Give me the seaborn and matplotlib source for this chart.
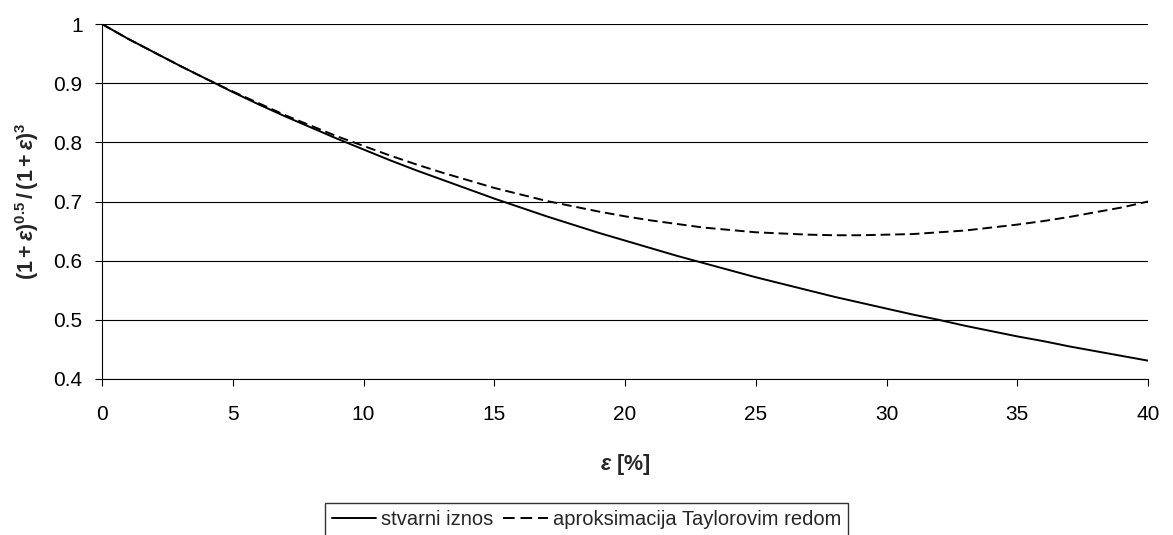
import pandas as pd
import seaborn as sns
import matplotlib.pyplot as plt

# values, epsilon in percent
eps = list(range(0, 41))
stvarni = [1.000, 0.975, 0.952, 0.929, 0.907, 0.885, 0.864, 0.844, 0.825, 0.806,
           0.788, 0.770, 0.753, 0.737, 0.721, 0.705, 0.690, 0.675, 0.661, 0.647,
           0.634, 0.621, 0.608, 0.596, 0.584, 0.572, 0.561, 0.550, 0.539, 0.529,
           0.519, 0.509, 0.500, 0.490, 0.481, 0.472, 0.464, 0.455, 0.447, 0.439,
           0.431]
taylor = [1.000, 0.975, 0.952, 0.929, 0.907, 0.886, 0.866, 0.846, 0.828, 0.810,
          0.794, 0.778, 0.763, 0.749, 0.736, 0.723, 0.712, 0.701, 0.692, 0.683,
          0.675, 0.668, 0.662, 0.656, 0.652, 0.648, 0.646, 0.644, 0.643, 0.643,
          0.644, 0.645, 0.648, 0.651, 0.656, 0.661, 0.667, 0.674, 0.682, 0.690,
          0.700]
series_names = ['stvarni iznos', 'aproksimacija Taylorovim redom']
x_ticks = [0, 5, 10, 15, 20, 25, 30, 35, 40]
y_ticks = [0.4, 0.5, 0.6, 0.7, 0.8, 0.9, 1.0]
y_ticklabels = ['0.4', '0.5', '0.6', '0.7', '0.8', '0.9', '1']

df = pd.concat([
    pd.DataFrame({'eps': eps, 'val': stvarni, 'serija': series_names[0]}),
    pd.DataFrame({'eps': eps, 'val': taylor, 'serija': series_names[1]}),
])

sns.set_style('white')
plt.rcParams['font.family'] = ['Liberation Sans', 'DejaVu Sans']
plt.rcParams['mathtext.fontset'] = 'custom'
plt.rcParams['mathtext.rm'] = 'Liberation Sans:bold'
plt.rcParams['mathtext.bf'] = 'Liberation Sans:bold'
plt.rcParams['mathtext.it'] = 'Liberation Sans:bold:italic'

fig = plt.figure(figsize=(11.73, 5.35), dpi=100)
ax = fig.add_axes([0.087, 0.2916, 0.8917, 0.6634])

for y in y_ticks:
    ax.axhline(y, color='black', lw=0.8, zorder=0)

sns.lineplot(data=df, x='eps', y='val', style='serija', style_order=series_names,
             dashes={series_names[0]: '', series_names[1]: (5, 2.5)},
             color='black', lw=1.4, ax=ax, legend=False)

ax.set_xlim(0, 40)
ax.set_ylim(0.4, 1.0)
ax.set_xticks(x_ticks)
ax.set_yticks(y_ticks)
ax.set_yticklabels(y_ticklabels)
ax.tick_params(axis='both', labelsize=15, direction='out', length=5, width=0.8,
               colors='black', bottom=True, left=True)
ax.tick_params(axis='x', pad=14)
ax.tick_params(axis='y', pad=9)
for s in ['top', 'right']:
    ax.spines[s].set_visible(False)
for s in ['left', 'bottom']:
    ax.spines[s].set_color('black')
    ax.spines[s].set_linewidth(0.8)

ax.set_xlabel(r'$\varepsilon$ [%]', fontsize=15.5, fontweight='bold', labelpad=20)
ax.set_ylabel(r'$(1+\varepsilon)^{0.5}\,/\,(1+\varepsilon)^{3}$', fontsize=15.5, labelpad=9)

handles = [plt.Line2D([], [], color='black', lw=1.4),
           plt.Line2D([], [], color='black', lw=1.4, dashes=(6, 3))]
fig.legend(handles, series_names, loc='upper center', bbox_to_anchor=(0.5, 0.06),
           ncol=2, frameon=True, fancybox=False, edgecolor='black', fontsize=14.5,
           handlelength=2.2, handletextpad=0.25, columnspacing=0.5,
           borderpad=0.35, borderaxespad=0)

fig.savefig('out.png', dpi=100)
